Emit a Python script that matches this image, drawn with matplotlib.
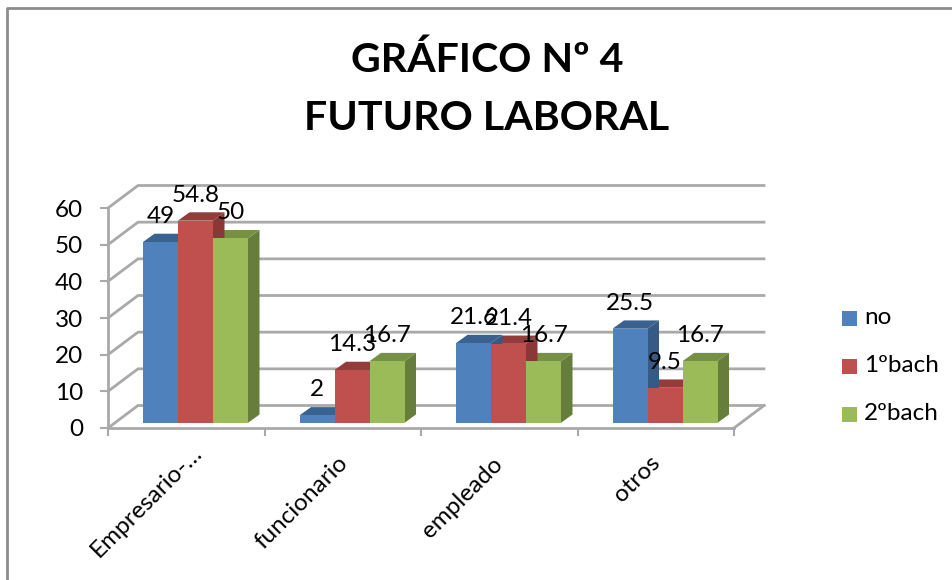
#!/usr/bin/env python3
import numpy as np
import matplotlib.pyplot as plt
from matplotlib.patches import Rectangle

plt.rcParams["font.family"] = ["Lato", "DejaVu Sans"]

categories = ["Empresario-…", "funcionario", "empleado", "otros"]
series_names = ["no", "1ºbach", "2ºbach"]
no_vals = [49, 2, 21.6, 25.5]
bach1_vals = [54.8, 14.3, 21.4, 9.5]
bach2_vals = [50, 16.7, 16.7, 16.7]
y_ticks = [0, 10, 20, 30, 40, 50, 60]

front_cols = ["#4f81bd", "#c0504d", "#9bbb59"]
top_cols = ["#3a6291", "#943c3a", "#769044"]
side_cols = ["#365a86", "#8a3836", "#667d3b"]
grid_col = "#a9a9a9"

W, H = 952, 580
FS = 17.5
fig = plt.figure(figsize=(W / 100, H / 100), dpi=100)
# plot area in pixels: x 108..734, y 428 (zero) .. 208 (sixty)
ax = fig.add_axes([108 / W, 1 - 428 / H, 626 / W, 220 / H])
ax.set_xlim(0, 4)
ax.set_ylim(0, 60)

px = 4 / 626  # one pixel in x units
py = 60 / 220  # one pixel in y units

# walls: back offset of the 3d box
bx, by = 30 * px, 22.5 * py
for v in y_ticks:
    ax.plot([0, bx, 4 + bx], [v, v + by, v + by], color=grid_col, lw=2, clip_on=False, zorder=1)
ax.plot([4, 4 + bx], [0, by], color=grid_col, lw=2, clip_on=False, zorder=1)

# bars, front face sits a little inside the floor
bar_w = 35 * px
start = 35 * px
base = 5.2 * py
dx, dy = 11.5 * px, 8.3 * py
all_vals = [no_vals, bach1_vals, bach2_vals]

for s in [2, 1, 0]:
    vals = all_vals[s]
    for i, v in enumerate(vals):
        x0 = i + start + s * bar_w
        x1 = x0 + bar_w
        top = base + v * 3.69 / 3.667
        ax.fill([x1, x1 + dx, x1 + dx, x1], [base, base + dy, top + dy, top],
                color=side_cols[s], lw=0, clip_on=False, zorder=3 + i * 3 + (2 - s) * 0.1)
        ax.fill([x0, x0 + dx, x1 + dx, x1], [top, top + dy, top + dy, top],
                color=top_cols[s], lw=0, clip_on=False, zorder=3 + i * 3 + (2 - s) * 0.1)
        ax.bar(x0, top - base, width=bar_w, bottom=base, align="edge", color=front_cols[s],
               clip_on=False, zorder=4 + i * 3 + s * 0.1)
        ax.text(x0 + bar_w / 2, top + 19 * py, f"{v:g}", ha="center", va="baseline",
                fontsize=FS, color="black", zorder=30)

for sp in ["top", "right"]:
    ax.spines[sp].set_visible(False)
for sp in ["left", "bottom"]:
    ax.spines[sp].set_color(grid_col)
    ax.spines[sp].set_linewidth(2)
ax.patch.set_alpha(0)

ax.set_yticks(y_ticks)
ax.set_xticks(np.arange(5))
ax.set_xticklabels([])
ax.tick_params(axis="both", which="major", color=grid_col, width=1.5, length=6)
ax.tick_params(axis="y", labelsize=FS, pad=12)

# rotated labels do not sit on the same spot under each group in the original
label_dx = [5, -6, -7, -7]
label_dy = [-14, -24, -25, -24]
for i, name in enumerate(categories):
    ax.annotate(name, xy=(i + 0.5, 0), xytext=(label_dx[i], label_dy[i]), textcoords="offset pixels",
                xycoords="data", rotation=45, rotation_mode="anchor", ha="right", va="top",
                fontsize=FS, annotation_clip=False)

# outer frame, only the left and top edges are in the crop
fig.add_artist(plt.Line2D([6.5 / W, 6.5 / W, 1], [0, 1 - 7.5 / H, 1 - 7.5 / H],
                          color="#8c8c8c", lw=2))

fig.text(487 / W, 1 - 60 / H, "GRÁFICO Nº 4", ha="center", va="center", fontsize=29.6, fontweight="bold")
fig.text(487 / W, 1 - 118 / H, "FUTURO LABORAL", ha="center", va="center", fontsize=29.6, fontweight="bold")

# legend
for s, name in enumerate(series_names):
    yc = 318 + s * 48
    fig.add_artist(Rectangle((842 / W, 1 - (yc + 7.5) / H), 15 / W, 15 / H,
                             transform=fig.transFigure, color=front_cols[s], lw=0))
    fig.text(864 / W, 1 - yc / H, name, ha="left", va="center", fontsize=FS)

fig.savefig("out.png", dpi=100)
